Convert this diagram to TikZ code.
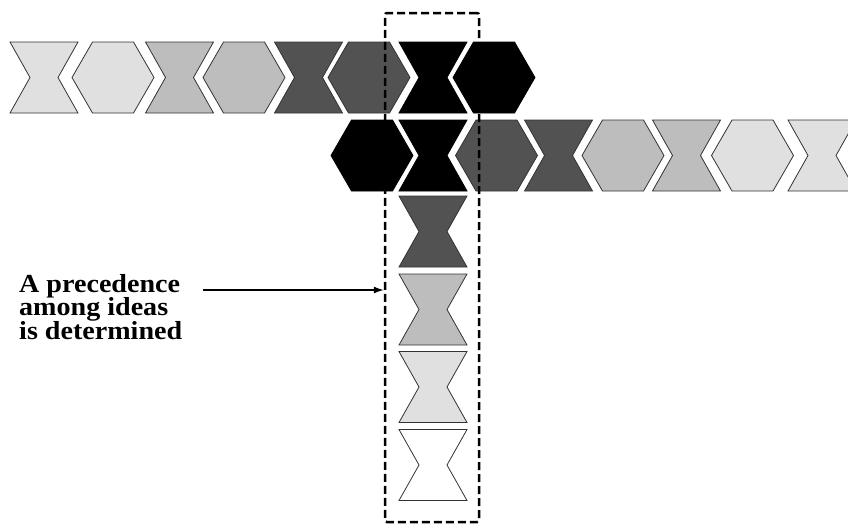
\documentclass[tikz,border=0pt]{standalone}
\usepackage{fontspec}
\setmainfont{Liberation Serif}
\usetikzlibrary{arrows.meta}
\definecolor{lightest}{gray}{0.88}
\definecolor{lightg}{gray}{0.74}
\definecolor{darkg}{gray}{0.32}
\tikzset{
  pics/bowtie/.style={code={
    \draw[pic actions] (-34,-35.5) -- (34,-35.5) -- (14,0) -- (34,35.5) -- (-34,35.5) -- (-14,0) -- cycle;}},
  pics/hexa/.style={code={
    \draw[pic actions] (-41,0) -- (-20.5,-35.5) -- (20.5,-35.5) -- (41,0) -- (20.5,35.5) -- (-20.5,35.5) -- cycle;}},
  shp/.style={draw=black!80, line width=0.8pt},
  sL/.style={shp, fill=lightest},
  sM/.style={shp, fill=lightg},
  sD/.style={shp, fill=darkg},
  sB/.style={shp, draw=black, fill=black},
  sW/.style={shp, fill=white},
  framebox/.style={draw, line width=2.5pt, dash pattern=on 8pt off 4pt, rounded corners=2pt, inner sep=0pt, minimum width=94pt, minimum height=509pt},
  lbl/.style={font=\fontsize{26}{23.5}\selectfont\bfseries, inner sep=0pt, anchor=base west},
  arr/.style={-{Latex[length=10pt,width=7pt]}, line width=1.3pt}
}
\newcommand{\wtxt}[1]{\scalebox{1.08}[1]{#1}}
\begin{document}
\begin{tikzpicture}[x=1pt,y=-1pt]
\useasboundingbox (0,0) rectangle (848,523);
\clip (0,0) rectangle (848,523);
% top row
\pic[sL] at (44,77.5) {bowtie};
\pic[sL] at (113,77.5) {hexa};
\pic[sM] at (179.5,77.5) {bowtie};
\pic[sM] at (244,77.5) {hexa};
\pic[sD] at (308.5,77.5) {bowtie};
\pic[sD] at (369,77.5) {hexa};
\pic[sB] at (433,77.5) {bowtie};
\pic[sB] at (494,77.5) {hexa};
% second row
\pic[sB] at (372,155.5) {hexa};
\pic[sB] at (433,155.5) {bowtie};
\pic[sD] at (496.5,155.5) {hexa};
\pic[sD] at (558.5,155.5) {bowtie};
\pic[sM] at (623,155.5) {hexa};
\pic[sM] at (686.5,155.5) {bowtie};
\pic[sL] at (752.5,155.5) {hexa};
\pic[sL] at (822,155.5) {bowtie};
% column
\pic[sD] at (433,231.5) {bowtie};
\pic[sM] at (433,309.5) {bowtie};
\pic[sL] at (433,387) {bowtie};
\pic[sW] at (433,465) {bowtie};
% frame
\node[framebox] (frame) at (432,267.5) {};
% label
\node[lbl] (l1) at (19,292) {\wtxt{A precedence}};
\node[lbl] (l2) at (19,315.5) {\wtxt{among ideas}};
\node[lbl] (l3) at (19,339) {\wtxt{is determined}};
\coordinate (as) at (203,290);
\draw[arr] (as) -- (frame.west |- as);
\end{tikzpicture}
\end{document}
